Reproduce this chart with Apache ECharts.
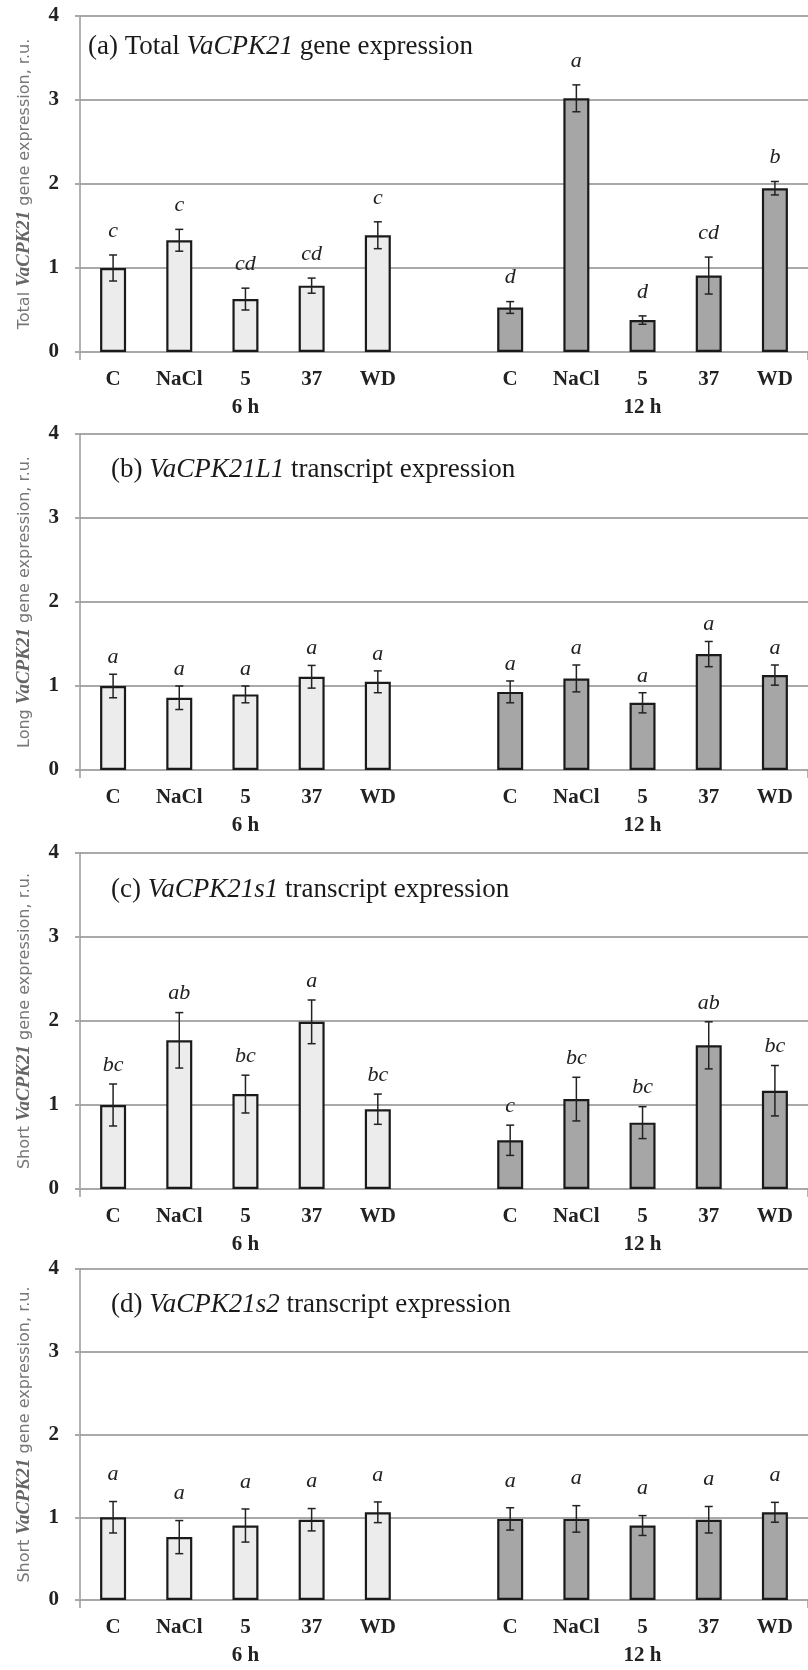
<!DOCTYPE html>
<html>
<head>
<meta charset="utf-8">
<script src="https://cdn.jsdelivr.net/npm/echarts@6/dist/echarts.min.js"></script>
<style>
  html, body { margin: 0; padding: 0; background: #fff; }
  #chart { width: 808px; height: 1670px; }
</style>
</head>
<body>
<div id="chart"></div>
<script>
// treatments and sampling times
const treatments = ["C", "NaCl", "5", "37", "WD"];
const times = ["6 h", "12 h"];

// (a) total VaCPK21
const totalMean6 = [1.00, 1.33, 0.63, 0.79, 1.39];
const totalErr6 = [0.155, 0.13, 0.13, 0.09, 0.16];
const totalMean12 = [0.53, 3.02, 0.38, 0.91, 1.95];
const totalErr12 = [0.07, 0.16, 0.05, 0.22, 0.08];
const totalLetters6 = ["c", "c", "cd", "cd", "c"];
const totalLetters12 = ["d", "a", "d", "cd", "b"];

// (b) VaCPK21L1
const longMean6 = [1.00, 0.86, 0.90, 1.11, 1.05];
const longErr6 = [0.14, 0.14, 0.10, 0.135, 0.13];
const longMean12 = [0.93, 1.09, 0.80, 1.38, 1.13];
const longErr12 = [0.13, 0.16, 0.12, 0.15, 0.12];
const longLetters6 = ["a", "a", "a", "a", "a"];
const longLetters12 = ["a", "a", "a", "a", "a"];

// (c) VaCPK21s1
const s1Mean6 = [1.00, 1.77, 1.13, 1.99, 0.95];
const s1Err6 = [0.25, 0.33, 0.225, 0.26, 0.18];
const s1Mean12 = [0.58, 1.07, 0.79, 1.71, 1.17];
const s1Err12 = [0.18, 0.26, 0.19, 0.28, 0.30];
const s1Letters6 = ["bc", "ab", "bc", "a", "bc"];
const s1Letters12 = ["c", "bc", "bc", "ab", "bc"];

// (d) VaCPK21s2
const s2Mean6 = [1.00, 0.76, 0.90, 0.97, 1.06];
const s2Err6 = [0.19, 0.20, 0.20, 0.135, 0.125];
const s2Mean12 = [0.98, 0.98, 0.90, 0.97, 1.06];
const s2Err12 = [0.135, 0.16, 0.12, 0.16, 0.12];
const s2Letters6 = ["a", "a", "a", "a", "a"];
const s2Letters12 = ["a", "a", "a", "a", "a"];

const yMax = 4;

const panels = [
  { title: "{n|(a) Total }{i|VaCPK21}{n| gene expression}", yName: "Total",
    mean: [totalMean6, totalMean12], err: [totalErr6, totalErr12], letters: [totalLetters6, totalLetters12],
    top: 16, titleLeft: 88, titleTop: 32, letterGap: 24 },
  { title: "{n|(b) }{i|VaCPK21L1}{n| transcript expression}", yName: "Long",
    mean: [longMean6, longMean12], err: [longErr6, longErr12], letters: [longLetters6, longLetters12],
    top: 434, titleLeft: 111, titleTop: 455, letterGap: 17 },
  { title: "{n|(c) }{i|VaCPK21s1}{n| transcript expression}", yName: "Short",
    mean: [s1Mean6, s1Mean12], err: [s1Err6, s1Err12], letters: [s1Letters6, s1Letters12],
    top: 853, titleLeft: 111, titleTop: 875, letterGap: 19 },
  { title: "{n|(d) }{i|VaCPK21s2}{n| transcript expression}", yName: "Short",
    mean: [s2Mean6, s2Mean12], err: [s2Err6, s2Err12], letters: [s2Letters6, s2Letters12],
    top: 1269, titleLeft: 111, titleTop: 1290, letterGap: 27 }
];

// 5 treatments, an empty slot, 5 treatments
const categories = treatments.concat([""], treatments);
const mid = Math.floor(treatments.length / 2);
const groupStart = [0, treatments.length + 1];
const barColors = ["#ececec", "#a6a6a6"];

const serif = "Liberation Serif, Times New Roman, serif";
const gridGray = "#a9a9a9";

const option = {
  backgroundColor: "#fff",
  animation: false,
  title: [],
  grid: [],
  xAxis: [],
  yAxis: [],
  series: []
};

panels.forEach((p, k) => {
  option.title.push({
    text: p.title,
    left: p.titleLeft,
    top: p.titleTop,
    padding: 0,
    textStyle: {
      fontWeight: "normal",
      rich: {
        n: { fontFamily: serif, fontSize: 27, fontWeight: "normal", color: "#1a1a1a", lineHeight: 30 },
        i: { fontFamily: serif, fontSize: 27, fontWeight: "normal", fontStyle: "italic", color: "#1a1a1a", lineHeight: 30 }
      }
    }
  });

  option.grid.push({ left: 80, right: -6, top: p.top, height: 336 });

  option.xAxis.push({
    type: "category",
    gridIndex: k,
    data: categories,
    axisLine: { lineStyle: { color: gridGray, width: 2 } },
    axisTick: { show: true, length: 8, interval: (i) => i === 0, lineStyle: { color: "#999", width: 1.5 } },
    axisLabel: {
      interval: 0,
      margin: 14,
      fontFamily: serif,
      fontSize: 21,
      fontWeight: "bold",
      color: "#222",
      lineHeight: 28,
      formatter: (v, i) => {
        const g = groupStart.indexOf(i - mid);
        return g >= 0 ? v + "\n" + times[g] : v;
      }
    }
  });

  option.yAxis.push({
    type: "value",
    gridIndex: k,
    min: 0,
    max: yMax,
    interval: 1,
    name: "{s|" + p.yName + " }{i|VaCPK21}{s| gene expression, r.u.}",
    nameLocation: "middle",
    nameGap: 46,
    nameRotate: 90,
    nameTextStyle: {
      rich: {
        s: { fontFamily: "DejaVu Sans, Verdana, sans-serif", fontSize: 16, color: "#777" },
        i: { fontFamily: serif, fontSize: 19, fontStyle: "italic", fontWeight: "bold", color: "#666" }
      }
    },
    axisLine: { show: true, lineStyle: { color: "#999", width: 1.5 } },
    axisTick: { show: true, length: 5, lineStyle: { color: gridGray, width: 2 } },
    axisLabel: { margin: 21, fontFamily: serif, fontSize: 21, fontWeight: "bold", color: "#222" },
    splitLine: { lineStyle: { color: gridGray, width: 2 } }
  });

  // bar values laid on the 11 slots
  const barData = categories.map(() => null);
  const errData = [];
  const letterAt = [];
  times.forEach((t, g) => {
    treatments.forEach((tr, j) => {
      const idx = groupStart[g] + j;
      barData[idx] = { value: p.mean[g][j], itemStyle: { color: barColors[g] } };
      errData.push([idx, p.mean[g][j] - p.err[g][j], p.mean[g][j] + p.err[g][j]]);
      letterAt.push(p.letters[g][j]);
    });
  });

  option.series.push({
    type: "bar",
    xAxisIndex: k,
    yAxisIndex: k,
    data: barData,
    barWidth: 26,
    itemStyle: { borderColor: "#1a1a1a", borderWidth: 2.2 },
    z: 2
  });

  option.series.push({
    type: "custom",
    xAxisIndex: k,
    yAxisIndex: k,
    data: errData,
    z: 5,
    clip: false,
    renderItem: (params, api) => {
      const lo = api.coord([api.value(0), api.value(1)]);
      const hi = api.coord([api.value(0), api.value(2)]);
      const cap = 4;
      const ls = { stroke: "#222", lineWidth: 1.5 };
      return {
        type: "group",
        children: [
          { type: "line", shape: { x1: hi[0], y1: hi[1], x2: lo[0], y2: lo[1] }, style: ls },
          { type: "line", shape: { x1: hi[0] - cap, y1: hi[1], x2: hi[0] + cap, y2: hi[1] }, style: ls },
          { type: "line", shape: { x1: lo[0] - cap, y1: lo[1], x2: lo[0] + cap, y2: lo[1] }, style: ls },
          {
            type: "text",
            x: hi[0],
            y: hi[1] - p.letterGap,
            style: {
              text: letterAt[params.dataIndex],
              fontFamily: serif,
              fontSize: 22,
              fontStyle: "italic",
              fill: "#222",
              align: "center",
              verticalAlign: "middle"
            }
          }
        ]
      };
    }
  });
});

const chart = echarts.init(document.getElementById("chart"), null, { renderer: "canvas" });
chart.setOption(option);
</script>
</body>
</html>
